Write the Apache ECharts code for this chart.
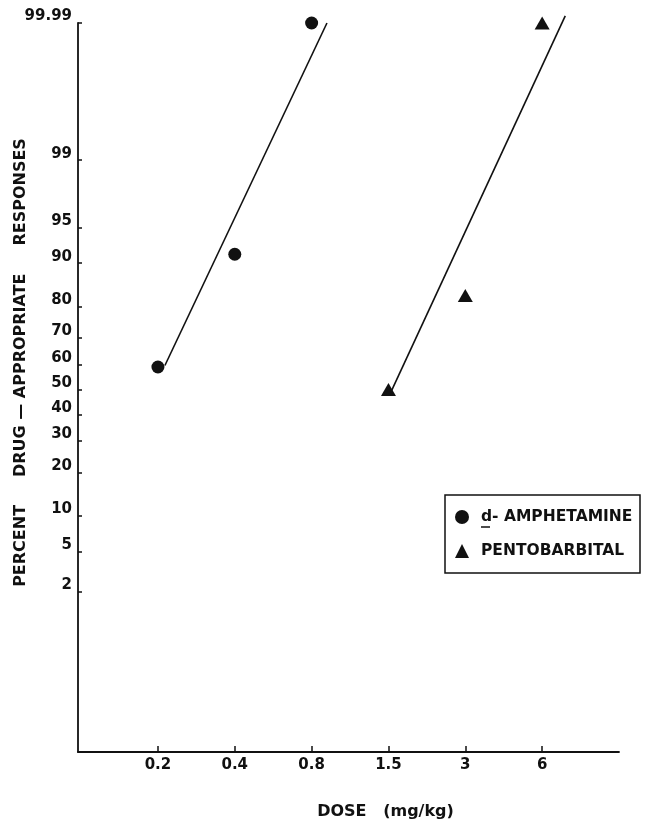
<!DOCTYPE html>
<html><head><meta charset="utf-8">
<script src="https://cdn.jsdelivr.net/npm/echarts@6/dist/echarts.min.js"></script>
<style>html,body{margin:0;padding:0;background:#fff}#c{width:646px;height:822px}</style>
</head><body><div id="c"></div>
<script>
// ---- data ----
const doseTicks = [0.2, 0.4, 0.8, 1.5, 3, 6];
const doseTickLabels = ['0.2', '0.4', '0.8', '1.5', '3', '6'];
const percentTicks = [2, 5, 10, 20, 30, 40, 50, 60, 70, 80, 90, 95, 99, 99.99];
const percentTickLabels = ['2', '5', '10', '20', '30', '40', '50', '60', '70', '80', '90', '95', '99', '99.99'];
const amphDose = [0.2, 0.4, 0.8];
const amphPct = [59, 91.5, 99.99];
const pentoDose = [1.5, 3, 6];
const pentoPct = [50, 83, 99.99];
// fitted dose-response lines (end points)
const amphFitDose = [0.213, 0.907];
const amphFitPct = [59.6, 99.99];
const pentoFitDose = [1.53, 7.39];
const pentoFitPct = [48.7, 99.9925];

// ---- scales: log-dose (tick spacing) and probit ----
function doseToPos(d) {
  const n = doseTicks.length;
  let i = 0;
  while (i < n - 2 && d >= doseTicks[i + 1]) i++;
  return i + Math.log(d / doseTicks[i]) / Math.log(doseTicks[i + 1] / doseTicks[i]);
}
function probit(pct) {
  const p = pct / 100;
  const a = [-3.969683028665376e+01, 2.209460984245205e+02, -2.759285104469687e+02, 1.383577518672690e+02, -3.066479806614716e+01, 2.506628277459239e+00];
  const b = [-5.447609879822406e+01, 1.615858368580409e+02, -1.556989798598866e+02, 6.680131188771972e+01, -1.328068155288572e+01];
  const c = [-7.784894002430293e-03, -3.223964580411365e-01, -2.400758277161838e+00, -2.549732539343734e+00, 4.374664141464968e+00, 2.938163982698783e+00];
  const d = [7.784695709041462e-03, 3.224671290700398e-01, 2.445134137142996e+00, 3.754408661907416e+00];
  const pl = 0.02425;
  let q, r;
  if (p < pl) {
    q = Math.sqrt(-2 * Math.log(p));
    return (((((c[0]*q+c[1])*q+c[2])*q+c[3])*q+c[4])*q+c[5]) / ((((d[0]*q+d[1])*q+d[2])*q+d[3])*q+1);
  } else if (p <= 1 - pl) {
    q = p - 0.5; r = q * q;
    return (((((a[0]*r+a[1])*r+a[2])*r+a[3])*r+a[4])*r+a[5])*q / (((((b[0]*r+b[1])*r+b[2])*r+b[3])*r+b[4])*r+1);
  } else {
    q = Math.sqrt(-2 * Math.log(1 - p));
    return -(((((c[0]*q+c[1])*q+c[2])*q+c[3])*q+c[4])*q+c[5]) / ((((d[0]*q+d[1])*q+d[2])*q+d[3])*q+1);
  }
}
const pts = (ds, ps) => ds.map((v, i) => [doseToPos(v), probit(ps[i])]);

const FONT = 'DejaVu Sans';
const INK = '#111';
const xTickPos = doseTicks.map(doseToPos);
const yTickPos = percentTicks.map(probit);
function nearestLabel(list, labels, v) {
  let bi = 0;
  for (let i = 1; i < list.length; i++) if (Math.abs(list[i] - v) < Math.abs(list[bi] - v)) bi = i;
  return Math.abs(list[bi] - v) < 1e-6 ? labels[bi] : '';
}

const chart = echarts.init(document.getElementById('c'), null, { renderer: 'canvas' });
chart.setOption({
  animation: false,
  backgroundColor: '#fff',
  grid: { left: 78, top: 23, right: 27, bottom: 70, containLabel: false, outerBoundsMode: 'none' },
  xAxis: {
    type: 'value', min: -1.04, max: 6,
    name: 'DOSE   (mg/kg)', nameLocation: 'middle', nameGap: 52, nameMoveOverlap: false,
    nameTextStyle: { fontFamily: FONT, fontWeight: 'bold', fontSize: 16, color: INK, padding: [0, 0, 0, 74] },
    axisLine: { show: true, onZero: false, lineStyle: { color: INK, width: 1.8 } },
    axisTick: { show: true, inside: true, length: 6, customValues: xTickPos, lineStyle: { color: INK, width: 1.5 } },
    axisLabel: { customValues: xTickPos, margin: 6, fontFamily: FONT, fontWeight: 'bold', fontSize: 15, color: INK,
      formatter: v => nearestLabel(xTickPos, doseTickLabels, v) },
    splitLine: { show: false }
  },
  yAxis: {
    type: 'value', min: -3.68, max: probit(99.99),
    name: 'PERCENT     DRUG — APPROPRIATE     RESPONSES', nameLocation: 'middle', nameGap: 49, nameMoveOverlap: false,
    nameTextStyle: { fontFamily: FONT, fontWeight: 'bold', fontSize: 16, color: INK, padding: [0, 0, 0, 50] },
    axisLine: { show: true, onZero: false, lineStyle: { color: INK, width: 1.8 } },
    axisTick: { show: true, inside: true, length: 4, customValues: yTickPos, lineStyle: { color: INK, width: 1.5 } },
    axisLabel: { customValues: yTickPos, margin: 6, fontFamily: FONT, fontWeight: 'bold', fontSize: 15, color: INK,
      verticalAlign: 'bottom', lineHeight: 13,
      formatter: v => nearestLabel(yTickPos, percentTickLabels, v) },
    splitLine: { show: false }
  },
  legend: {
    data: [{ name: 'd- AMPHETAMINE', icon: 'circle' }, { name: 'PENTOBARBITAL', icon: 'triangle' }],
    orient: 'vertical', left: 455, top: 509, padding: 0, itemWidth: 14, itemHeight: 14, itemGap: 18,
    selectedMode: false,
    itemStyle: { opacity: 1, color: INK },
    textStyle: { fontFamily: FONT, fontWeight: 'bold', fontSize: 15.5, color: INK, padding: [0, 0, 0, 7] }
  },
  graphic: [
    { type: 'rect', shape: { x: 445, y: 495, width: 195, height: 78 }, style: { fill: 'none', stroke: INK, lineWidth: 1.5 }, silent: true },
    { type: 'line', shape: { x1: 481, y1: 527, x2: 490, y2: 527 }, style: { stroke: INK, lineWidth: 1.5 }, silent: true }
  ],
  series: [
    { name: 'amphFit', type: 'line', data: pts(amphFitDose, amphFitPct), symbol: 'none', clip: false,
      lineStyle: { color: INK, width: 1.6 }, silent: true },
    { name: 'pentoFit', type: 'line', data: pts(pentoFitDose, pentoFitPct), symbol: 'none', clip: false,
      lineStyle: { color: INK, width: 1.6 }, silent: true },
    { name: 'd- AMPHETAMINE', type: 'scatter', data: pts(amphDose, amphPct), symbol: 'circle', symbolSize: 13,
      itemStyle: { color: INK, opacity: 1 }, clip: false },
    { name: 'PENTOBARBITAL', type: 'scatter', data: pts(pentoDose, pentoPct), symbol: 'triangle', symbolSize: [15, 13],
      itemStyle: { color: INK, opacity: 1 }, clip: false }
  ]
});
</script></body></html>
